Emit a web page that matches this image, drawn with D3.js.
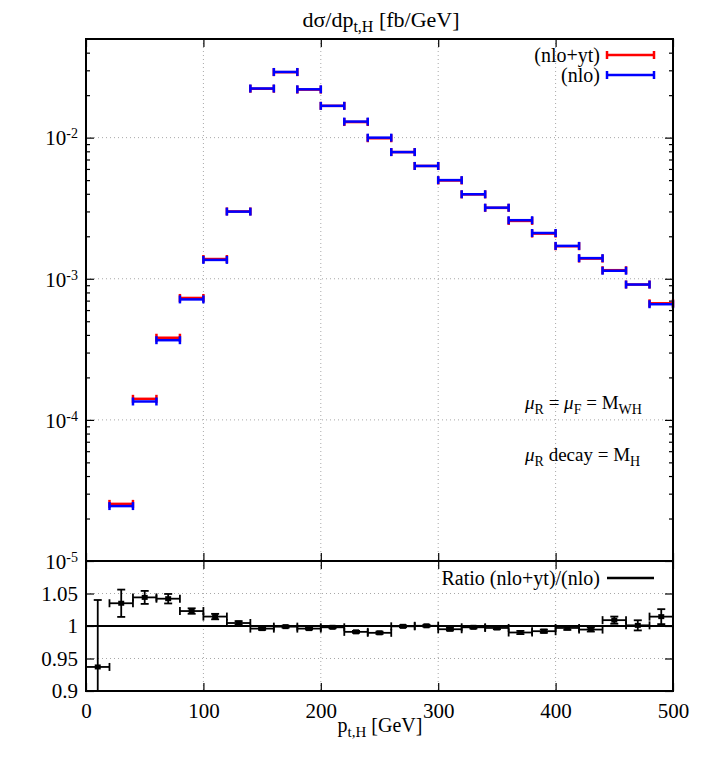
<!DOCTYPE html>
<html>
<head>
<meta charset="utf-8">
<script src="https://cdn.jsdelivr.net/npm/d3@7"></script>
<style>
    body { margin: 0; background: #fff; }
    svg text { font-family: "Liberation Serif", "DejaVu Serif", serif; fill: #000; }
</style>
</head>
<body>
<div id="plot"></div>
<script>
// Bin lower edges (GeV), every bin is 20 GeV wide
const binLow = [0, 20, 40, 60, 80, 100, 120, 140, 160, 180, 200, 220, 240, 260, 280, 300, 320, 340, 360, 380, 400, 420, 440, 460, 480];
const binWidth = 20;

// Main panel: dsigma/dpt [fb/GeV], bins from 20 GeV upward
const mainLow = binLow.slice(1);
const nloYt = [2.54e-5, 1.41e-4, 3.82e-4, 7.31e-4, 1.38e-3, 3.00e-3, 2.22e-2, 2.91e-2, 2.19e-2, 1.68e-2, 1.29e-2, 9.9e-3, 7.9e-3, 6.3e-3, 4.97e-3, 3.96e-3, 3.18e-3, 2.57e-3, 2.09e-3, 1.70e-3, 1.39e-3, 1.15e-3, 9.1e-4, 6.7e-4];
const nlo = [2.45e-5, 1.35e-4, 3.67e-4, 7.14e-4, 1.36e-3, 2.99e-3, 2.23e-2, 2.92e-2, 2.20e-2, 1.68e-2, 1.30e-2, 1.00e-2, 7.9e-3, 6.3e-3, 5.00e-3, 3.97e-3, 3.19e-3, 2.60e-3, 2.11e-3, 1.71e-3, 1.40e-3, 1.14e-3, 9.1e-4, 6.6e-4];

// Ratio panel: (nlo+yt)/(nlo) and its error
const ratio = [0.937, 1.035, 1.044, 1.042, 1.023, 1.0145, 1.0046, 0.996, 0.999, 0.996, 0.998, 0.991, 0.9895, 0.9995, 1.0003, 0.995, 0.998, 0.997, 0.990, 0.992, 0.997, 0.9945, 1.009, 1.001, 1.0144];
const ratioErr = [0.103, 0.021, 0.010, 0.0073, 0.0042, 0.0042, 0.0029, 0.002, 0.0015, 0.0015, 0.0015, 0.0015, 0.0018, 0.0015, 0.0015, 0.002, 0.0018, 0.002, 0.0025, 0.0025, 0.003, 0.003, 0.0055, 0.0078, 0.0115];

// Tick values
const xTicks = [0, 100, 200, 300, 400, 500];
const mainTicks = [1e-5, 1e-4, 1e-3, 1e-2];
const ratioTicks = [0.9, 0.95, 1, 1.05];

const width = 709, height = 767;
const left = 86, right = 673;
const mainTop = 39, mainBottom = 561;
const ratioTop = 561, ratioBottom = 691;

const svg = d3.select("#plot")
    .append("svg")
    .attr("width", width)
    .attr("height", height);

// Scales
const x = d3.scaleLinear().domain([0, 500]).range([left, right]);
const yMain = d3.scaleLog().domain([1e-5, 0.05]).range([mainBottom, mainTop]);
const yRatio = d3.scaleLinear().domain([0.9, 1.1]).range([ratioBottom, ratioTop]);

const gridStyle = sel => sel.attr("stroke", "#a8a8a8").attr("stroke-width", 1).attr("stroke-dasharray", "1,3");

// Grid lines, main panel
svg.append("g").selectAll("line")
    .data(xTicks.slice(1, -1))
    .enter().append("line")
    .attr("x1", d => x(d)).attr("x2", d => x(d))
    .attr("y1", mainTop).attr("y2", mainBottom)
    .call(gridStyle);
svg.append("g").selectAll("line")
    .data(mainTicks.slice(1))
    .enter().append("line")
    .attr("x1", left).attr("x2", right)
    .attr("y1", d => yMain(d)).attr("y2", d => yMain(d))
    .call(gridStyle);

// Grid lines, ratio panel
svg.append("g").selectAll("line")
    .data(xTicks.slice(1, -1))
    .enter().append("line")
    .attr("x1", d => x(d)).attr("x2", d => x(d))
    .attr("y1", ratioTop).attr("y2", ratioBottom)
    .call(gridStyle);
svg.append("g").selectAll("line")
    .data([0.95, 1.05])
    .enter().append("line")
    .attr("x1", left).attr("x2", right)
    .attr("y1", d => yRatio(d)).attr("y2", d => yRatio(d))
    .call(gridStyle);

// Axes (ticks drawn inward like gnuplot)
function addAxis(axis, tx, ty) {
    const g = svg.append("g")
        .attr("transform", `translate(${tx},${ty})`)
        .call(axis);
    g.select(".domain").remove();
    g.selectAll("line").attr("stroke", "#000").attr("stroke-width", 1.2);
    return g;
}

// y axis main panel, majors with labels
const mainLeft = addAxis(d3.axisLeft(yMain).tickValues(mainTicks).tickSize(-8).tickFormat(() => ""), left, 0);
mainLeft.selectAll(".tick").append("text")
    .attr("x", -8).attr("dy", "0.35em")
    .attr("text-anchor", "end")
    .style("font-size", "21px")
    .each(function(d) {
        const t = d3.select(this);
        t.append("tspan").text("10");
        t.append("tspan").attr("dy", "-0.5em").style("font-size", "14px").text(Math.round(Math.log10(d)));
    });
addAxis(d3.axisRight(yMain).tickValues(mainTicks).tickSize(-8).tickFormat(""), right, 0);

// Minor log ticks
const minorTicks = [];
mainTicks.forEach(d => { for (let k = 2; k <= 9; k++) if (d * k < 0.05) minorTicks.push(d * k); });
addAxis(d3.axisLeft(yMain).tickValues(minorTicks).tickSize(-4).tickFormat(""), left, 0);
addAxis(d3.axisRight(yMain).tickValues(minorTicks).tickSize(-4).tickFormat(""), right, 0);

// x ticks on both panels
addAxis(d3.axisTop(x).tickValues(xTicks).tickSize(-8).tickFormat(""), 0, mainTop);
addAxis(d3.axisBottom(x).tickValues(xTicks).tickSize(-8).tickFormat(""), 0, mainBottom);
addAxis(d3.axisTop(x).tickValues(xTicks).tickSize(-8).tickFormat(""), 0, ratioTop);
const xBottom = addAxis(d3.axisBottom(x).tickValues(xTicks).tickSize(-8).tickPadding(12).tickFormat(d3.format("d")), 0, ratioBottom);
xBottom.selectAll("text").style("font-size", "21px").attr("font-family", null);

// ratio y axis
const rLeft = addAxis(d3.axisLeft(yRatio).tickValues(ratioTicks).tickSize(-8).tickPadding(8).tickFormat(d => d === 1 ? "1" : d3.format(".2~f")(d)), left, 0);
rLeft.selectAll("text").style("font-size", "21px").attr("font-family", null);
addAxis(d3.axisRight(yRatio).tickValues(ratioTicks).tickSize(-8).tickFormat(""), right, 0);

// Reference line at 1
svg.append("line")
    .attr("x1", left).attr("x2", right)
    .attr("y1", yRatio(1)).attr("y2", yRatio(1))
    .attr("stroke", "#000").attr("stroke-width", 2);

// Horizontal bin bars with end caps
function drawBins(g, lows, vals, yScale, color, sw) {
    const pts = lows.map((d, i) => ({lo: d, v: vals[i]}));
    g.selectAll(null).data(pts).enter().append("line")
        .attr("x1", d => x(d.lo)).attr("x2", d => x(d.lo + binWidth))
        .attr("y1", d => yScale(d.v)).attr("y2", d => yScale(d.v))
        .attr("stroke", color).attr("stroke-width", sw);
    [0, binWidth].forEach(off => {
        g.selectAll(null).data(pts).enter().append("line")
            .attr("x1", d => x(d.lo + off)).attr("x2", d => x(d.lo + off))
            .attr("y1", d => yScale(d.v) - 4).attr("y2", d => yScale(d.v) + 4)
            .attr("stroke", color).attr("stroke-width", sw);
    });
}

// Main panel data: red first, blue on top
const mainG = svg.append("g");
drawBins(mainG, mainLow, nloYt, yMain, "#ff0000", 2.5);
drawBins(mainG, mainLow, nlo, yMain, "#0000ff", 2.5);

// Ratio panel data (clipped to the panel)
svg.append("clipPath").attr("id", "ratio-clip")
    .append("rect")
    .attr("x", left).attr("y", ratioTop)
    .attr("width", right - left).attr("height", ratioBottom - ratioTop);
const ratioG = svg.append("g").attr("clip-path", "url(#ratio-clip)");
drawBins(ratioG, binLow, ratio, yRatio, "#000", 1.8);
const rPts = binLow.map((d, i) => ({c: d + binWidth / 2, v: ratio[i], e: ratioErr[i]}));
ratioG.selectAll(null).data(rPts).enter().append("line")
    .attr("x1", d => x(d.c)).attr("x2", d => x(d.c))
    .attr("y1", d => yRatio(d.v + d.e)).attr("y2", d => yRatio(d.v - d.e))
    .attr("stroke", "#000").attr("stroke-width", 1.8);
["+", "-"].forEach(s => {
    ratioG.selectAll(null).data(rPts).enter().append("line")
        .attr("x1", d => x(d.c) - 4).attr("x2", d => x(d.c) + 4)
        .attr("y1", d => yRatio(s === "+" ? d.v + d.e : d.v - d.e))
        .attr("y2", d => yRatio(s === "+" ? d.v + d.e : d.v - d.e))
        .attr("stroke", "#000").attr("stroke-width", 1.8);
});
ratioG.selectAll(null).data(rPts).enter().append("rect")
    .attr("x", d => x(d.c) - 3).attr("y", d => yRatio(d.v) - 2.5)
    .attr("width", 6).attr("height", 5)
    .attr("fill", "#000");

// Frames
svg.append("rect")
    .attr("x", left).attr("y", mainTop)
    .attr("width", right - left).attr("height", ratioBottom - mainTop)
    .attr("fill", "none").attr("stroke", "#000").attr("stroke-width", 2);
svg.append("line")
    .attr("x1", left).attr("x2", right)
    .attr("y1", mainBottom).attr("y2", mainBottom)
    .attr("stroke", "#000").attr("stroke-width", 2);

// Legends
const legend = [{label: "(nlo+yt)", color: "#ff0000", y: 55}, {label: "(nlo)", color: "#0000ff", y: 75}, {label: "Ratio (nlo+yt)/(nlo)", color: "#000", y: 578}];
legend.forEach(l => {
    svg.append("text")
        .attr("x", 600).attr("y", l.y).attr("dy", "0.33em")
        .attr("text-anchor", "end")
        .style("font-size", "20px")
        .text(l.label);
    svg.append("line")
        .attr("x1", 607).attr("x2", 654)
        .attr("y1", l.y).attr("y2", l.y)
        .attr("stroke", l.color).attr("stroke-width", 2.5);
    if (l.color !== "#000") {
        [607, 654].forEach(px => svg.append("line")
            .attr("x1", px).attr("x2", px)
            .attr("y1", l.y - 4).attr("y2", l.y + 4)
            .attr("stroke", l.color).attr("stroke-width", 2.5));
    }
});

// Title
const title = svg.append("text")
    .attr("x", 381).attr("y", 27)
    .attr("text-anchor", "middle")
    .style("font-size", "22px");
title.append("tspan").text("dσ/dp");
title.append("tspan").attr("dy", 5).style("font-size", "16px").text("t,H");
title.append("tspan").attr("dy", -5).text(" [fb/GeV]");

// x-axis label
const xLabel = svg.append("text")
    .attr("x", 380).attr("y", 732)
    .attr("text-anchor", "middle")
    .style("font-size", "20px");
xLabel.append("tspan").text("p");
xLabel.append("tspan").attr("dy", 5).style("font-size", "15px").text("t,H");
xLabel.append("tspan").attr("dy", -5).text(" [GeV]");

// Scale annotations
function annotation(y, parts) {
    const t = svg.append("text").attr("x", 525).attr("y", y).style("font-size", "19px");
    parts.forEach(p => {
        const sp = t.append("tspan").text(p.s);
        if (p.sub) sp.attr("dy", 5).style("font-size", "14px");
        if (p.up) sp.attr("dy", -5);
        if (p.it) sp.style("font-style", "italic");
    });
}
annotation(409, [{s: "μ", it: true}, {s: "R", sub: true}, {s: " = ", up: true}, {s: "μ", it: true}, {s: "F", sub: true}, {s: " = M", up: true}, {s: "WH", sub: true}]);
annotation(461, [{s: "μ", it: true}, {s: "R", sub: true}, {s: " decay = M", up: true}, {s: "H", sub: true}]);
</script>
</body>
</html>
